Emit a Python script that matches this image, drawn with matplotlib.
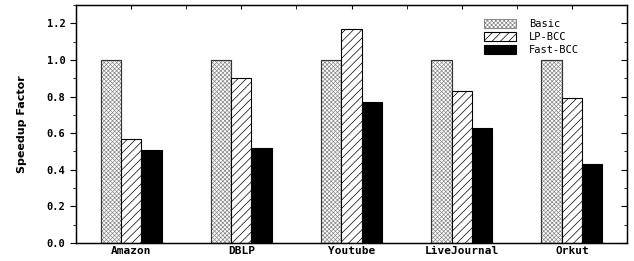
import numpy as np
import matplotlib.pyplot as plt
from matplotlib.ticker import MultipleLocator

plt.rcParams['hatch.linewidth'] = 0.5

datasets = ["Amazon", "DBLP", "Youtube", "LiveJournal", "Orkut"]
basic = [1.0, 1.0, 1.0, 1.0, 1.0]
lp_bcc = [0.57, 0.90, 1.17, 0.83, 0.79]
fast_bcc = [0.51, 0.52, 0.77, 0.63, 0.43]

fig = plt.figure(figsize=(6.34, 2.61), dpi=100)
ax = fig.add_axes([76 / 634, 18 / 261, 551 / 634, 238 / 261])

x = np.arange(len(datasets))
w = 0.185
ax.bar(x - w, basic, w, color='white', edgecolor='#8a8a8a', hatch='xxxxxxxx', linewidth=0.8, label='Basic')
ax.bar(x - w, basic, w, color='none', edgecolor='#333333', linewidth=0.8)
ax.bar(x, lp_bcc, w, color='white', edgecolor='black', hatch='////', linewidth=0.8, label='LP-BCC')
ax.bar(x + w, fast_bcc, w, color='black', edgecolor='black', linewidth=0.8, label='Fast-BCC')

ax.set_xlim(-0.5, 4.5)
ax.set_ylim(0, 1.3)
ax.set_xticks(x)
ax.set_xticklabels(datasets, family='DejaVu Sans Mono', fontweight='bold', fontsize=8)
ax.xaxis.set_minor_locator(MultipleLocator(0.5))
yt = [0.0, 0.2, 0.4, 0.6, 0.8, 1.0, 1.2]
ax.set_yticks(yt)
ax.set_yticklabels(['%.1f' % v for v in yt], family='DejaVu Sans Mono',
                   fontweight='bold', fontsize=7.5)
ax.yaxis.set_minor_locator(MultipleLocator(0.1))
ax.tick_params(axis='x', which='both', direction='in', top=True, bottom=False, length=3, pad=2)
ax.tick_params(axis='y', which='major', direction='out', length=4)
ax.tick_params(axis='y', which='minor', direction='out', length=2)

ax2 = ax.twinx()
ax2.set_ylim(0, 1.3)
ax2.set_yticks(yt)
ax2.yaxis.set_minor_locator(MultipleLocator(0.1))
ax2.tick_params(which='major', direction='in', length=4, labelright=False)
ax2.tick_params(which='minor', direction='in', length=2)

for sp in ax.spines.values():
    sp.set_linewidth(1.0)
ax.set_ylabel("Speedup Factor", fontweight='bold', fontsize=8, labelpad=14)

ax.legend(loc='upper right', bbox_to_anchor=(0.93, 0.98), frameon=False,
          prop={'family': 'DejaVu Sans Mono', 'size': 7.5},
          handlelength=3.0, handleheight=1.0, labelspacing=0.25, handletextpad=1.3)

fig.savefig('out.png', dpi=100)
